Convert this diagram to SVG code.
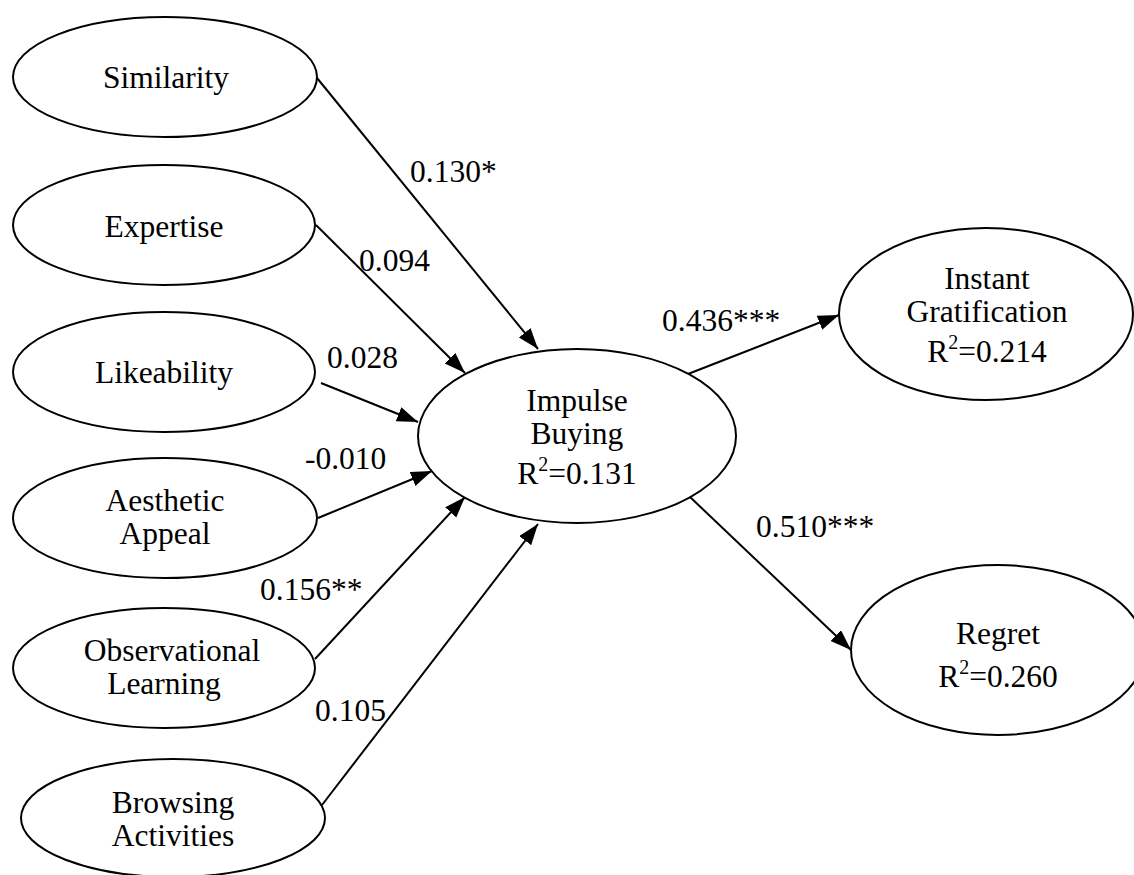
<svg xmlns="http://www.w3.org/2000/svg" width="1134" height="875" viewBox="0 0 1134 875">
<style>
.n{fill:#fff;stroke:#000;stroke-width:2}
.t{font-family:"Liberation Serif","Times New Roman",serif;font-size:31.5px;fill:#000;text-anchor:middle}
.l{font-family:"Liberation Serif","Times New Roman",serif;font-size:31.5px;fill:#000}
.c{stroke:#000;stroke-width:2;fill:none;marker-end:url(#ah)}
</style>
<defs>
<marker id="ah" markerUnits="userSpaceOnUse" markerWidth="22" markerHeight="16" refX="21" refY="7.5" orient="auto">
<path d="M0,0 L21,7.5 L0,15 z" fill="#000"/>
</marker>
</defs>
<rect width="1134" height="875" fill="#fff"/>
<g id="connectors">
<line class="c" x1="317" y1="78" x2="538" y2="349"/>
<line class="c" x1="316" y1="225" x2="465" y2="373"/>
<line class="c" x1="321" y1="383" x2="418" y2="422"/>
<line class="c" x1="318" y1="518" x2="432" y2="471"/>
<line class="c" x1="315" y1="659" x2="465" y2="497"/>
<line class="c" x1="322" y1="805" x2="538" y2="524"/>
<line class="c" x1="688" y1="374" x2="839" y2="315"/>
<line class="c" x1="690" y1="497" x2="851" y2="650"/>
<text class="l" x="410" y="182">0.130*</text>
<text class="l" x="359" y="271">0.094</text>
<text class="l" x="327" y="368">0.028</text>
<text class="l" x="305" y="469">-0.010</text>
<text class="l" x="260" y="600">0.156**</text>
<text class="l" x="315" y="721">0.105</text>
<text class="l" x="662" y="331">0.436***</text>
<text class="l" x="756" y="537">0.510***</text>
</g>
<g id="similarity">
<ellipse class="n" cx="165" cy="77" rx="152" ry="60"/>
<text class="t" x="166" y="88">Similarity</text>
</g>
<g id="expertise">
<ellipse class="n" cx="164" cy="225" rx="151" ry="60"/>
<text class="t" x="164" y="237">Expertise</text>
</g>
<g id="likeability">
<ellipse class="n" cx="164" cy="372" rx="151" ry="60"/>
<text class="t" x="164" y="383">Likeability</text>
</g>
<g id="aesthetic">
<ellipse class="n" cx="165" cy="518" rx="152" ry="60"/>
<text class="t" x="165" y="511">Aesthetic</text>
<text class="t" x="165" y="544">Appeal</text>
</g>
<g id="observational">
<ellipse class="n" cx="164" cy="668" rx="151" ry="60"/>
<text class="t" x="172" y="661">Observational</text>
<text class="t" x="164" y="694">Learning</text>
</g>
<g id="browsing">
<ellipse class="n" cx="173" cy="818" rx="152" ry="59"/>
<text class="t" x="173" y="813">Browsing</text>
<text class="t" x="173" y="846">Activities</text>
</g>
<g id="impulse">
<ellipse class="n" cx="577" cy="436" rx="159" ry="87"/>
<text class="t" x="577" y="411">Impulse</text>
<text class="t" x="577" y="444">Buying</text>
<text class="t" x="577" y="484">R<tspan font-size="20" dy="-13">2</tspan><tspan dy="13">=0.131</tspan></text>
</g>
<g id="instant">
<ellipse class="n" cx="986" cy="314" rx="147" ry="86"/>
<text class="t" x="987" y="289">Instant</text>
<text class="t" x="987" y="322">Gratification</text>
<text class="t" x="987" y="362">R<tspan font-size="20" dy="-13">2</tspan><tspan dy="13">=0.214</tspan></text>
</g>
<g id="regret">
<ellipse class="n" cx="998" cy="650" rx="147" ry="85"/>
<text class="t" x="998" y="644">Regret</text>
<text class="t" x="998" y="687">R<tspan font-size="20" dy="-13">2</tspan><tspan dy="13">=0.260</tspan></text>
</g>
</svg>
